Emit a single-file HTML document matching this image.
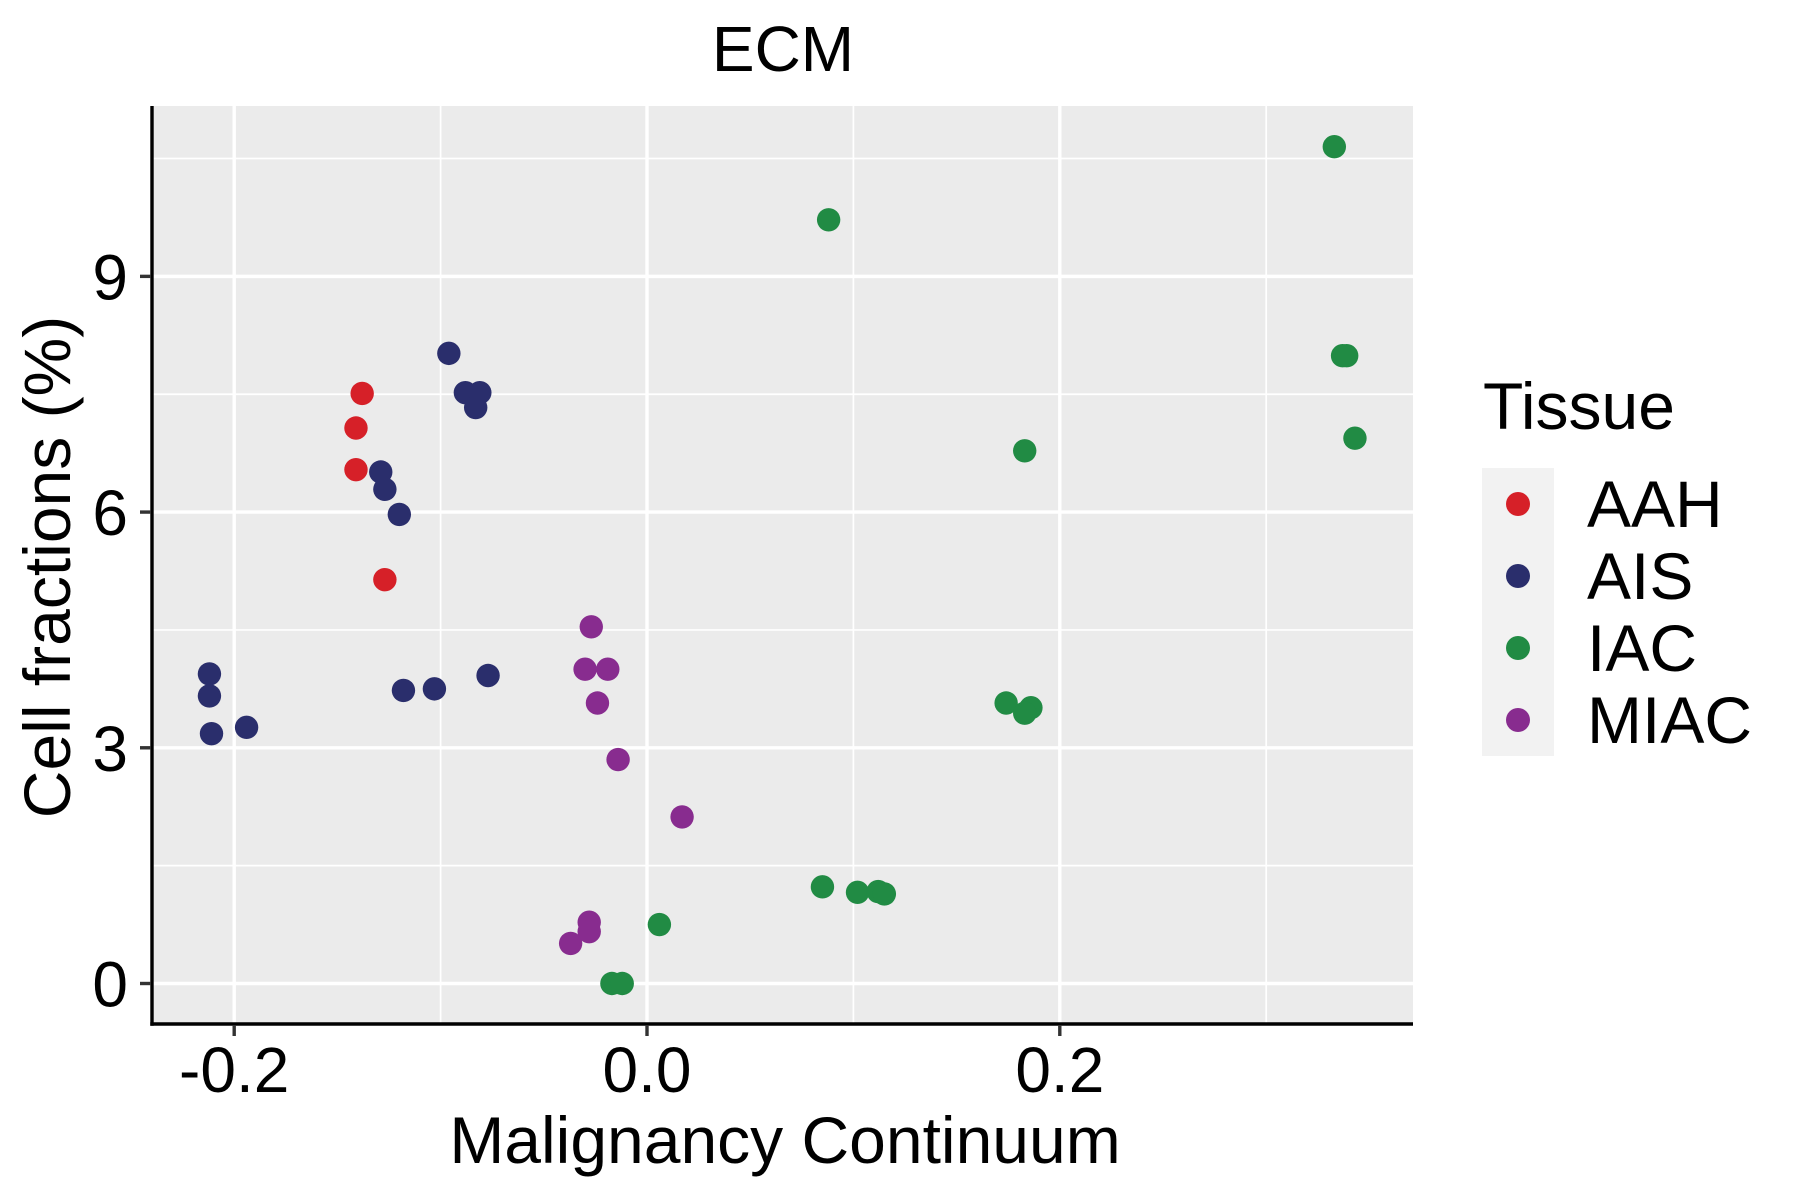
<!DOCTYPE html>
<html><head><meta charset="utf-8"><style>
html,body{margin:0;padding:0;background:#fff;}
svg{display:block;font-family:"Liberation Sans",Arial,sans-serif;}
</style></head><body>
<svg id="chart" width="1800" height="1200" viewBox="0 0 1800 1200" xmlns="http://www.w3.org/2000/svg">
<rect x="152" y="106" width="1261" height="918" fill="#ebebeb"/>
<g id="grid"></g>
<g id="points"></g>
<line x1="152" y1="106" x2="152" y2="1025.7" stroke="#000" stroke-width="3.4"/>
<line x1="150.3" y1="1024" x2="1413" y2="1024" stroke="#000" stroke-width="3.4"/>
<g id="ticks"></g>
<text x="783" y="71" font-size="64" text-anchor="middle">ECM</text>
<text x="785" y="1163" font-size="66" text-anchor="middle">Malignancy Continuum</text>
<text transform="translate(70,567) rotate(-90)" font-size="66" text-anchor="middle">Cell fractions (%)</text>
<g>
<text x="1483" y="429" font-size="66">Tissue</text>
<rect x="1482" y="468" width="72" height="288" fill="#f2f2f2"/>
<g id="legend-entries"></g>
</g>
</svg>
<script>
const xTicks = [-0.2, 0.0, 0.2];
const xTickLabels = ["-0.2", "0.0", "0.2"];
const xMinor = [-0.1, 0.1, 0.3];
const yTicks = [0, 3, 6, 9];
const yTickLabels = ["0", "3", "6", "9"];
const yMinor = [1.5, 4.5, 7.5, 10.5];
const groups = ["AAH", "AIS", "IAC", "MIAC"];
const groupColors = ["#d62028", "#2a2e6c", "#218b44", "#882c8f"];
const aahX = [-0.138, -0.141, -0.141, -0.127];
const aahY = [7.51, 7.07, 6.54, 5.14];
const aisX = [-0.096, -0.088, -0.081, -0.083, -0.129, -0.127, -0.120, -0.212, -0.212, -0.211, -0.194, -0.118, -0.103, -0.077];
const aisY = [8.02, 7.52, 7.52, 7.33, 6.51, 6.29, 5.97, 3.94, 3.66, 3.18, 3.26, 3.73, 3.75, 3.92];
const iacX = [0.333, 0.088, 0.337, 0.339, 0.343, 0.183, 0.174, 0.186, 0.183, 0.085, 0.102, 0.112, 0.115, 0.006, -0.017, -0.012];
const iacY = [10.65, 9.72, 7.99, 7.99, 6.94, 6.78, 3.57, 3.51, 3.44, 1.23, 1.16, 1.17, 1.14, 0.75, 0, 0];
const miacX = [-0.027, -0.030, -0.019, -0.024, -0.014, 0.017, -0.028, -0.028, -0.037];
const miacY = [4.54, 4.00, 4.00, 3.57, 2.85, 2.12, 0.78, 0.66, 0.51];

const NS = "http://www.w3.org/2000/svg";
function sx(v){ return 647 + v * 2064; }
function sy(v){ return 983.5 - v * 78.57; }
function mk(tag, attrs, parent){
  const e = document.createElementNS(NS, tag);
  for (const k in attrs) e.setAttribute(k, attrs[k]);
  parent.appendChild(e);
  return e;
}
const grid = document.getElementById("grid");
const ticks = document.getElementById("ticks");
xMinor.forEach(v => {
  const l = mk("line", {x1: sx(v), x2: sx(v), y1: 106, y2: 1024, stroke: "#fff", "stroke-width": 1.7}, grid);
  
  
});
yMinor.forEach(v => {
  const l = mk("line", {x1: 152, x2: 1413, y1: sy(v), y2: sy(v), stroke: "#fff", "stroke-width": 1.7}, grid);
  
  
});
xTicks.forEach((v, i) => {
  const l = mk("line", {x1: sx(v), x2: sx(v), y1: 106, y2: 1024, stroke: "#fff", "stroke-width": 3.4}, grid);
  
  
  const t = mk("line", {x1: sx(v), x2: sx(v), y1: 1025, y2: 1036, stroke: "#333", "stroke-width": 3.4}, ticks);
  
  
  const tx = mk("text", {x: sx(v), y: 1092, "font-size": 64, "text-anchor": "middle", fill: "#000"}, ticks);
  tx.textContent = xTickLabels[i];
  
  
});
yTicks.forEach((v, i) => {
  const l = mk("line", {x1: 152, x2: 1413, y1: sy(v), y2: sy(v), stroke: "#fff", "stroke-width": 3.4}, grid);
  
  
  const t = mk("line", {x1: 140, x2: 151, y1: sy(v), y2: sy(v), stroke: "#333", "stroke-width": 3.4}, ticks);
  
  
  const tx = mk("text", {x: 128, y: sy(v) + 23, "font-size": 64, "text-anchor": "end", fill: "#000"}, ticks);
  tx.textContent = yTickLabels[i];
  
  
});
const pts = document.getElementById("points");
const seriesX = [aahX, aisX, iacX, miacX];
const seriesY = [aahY, aisY, iacY, miacY];
seriesX.forEach((xs, g) => {
  xs.forEach((xv, j) => {
    const c = mk("circle", {cx: sx(xv), cy: sy(seriesY[g][j]), r: 11.7, fill: groupColors[g]}, pts);
    
    
  });
});
const le = document.getElementById("legend-entries");
groups.forEach((g, i) => {
  const c = mk("circle", {cx: 1518, cy: 504 + i * 72, r: 12, fill: groupColors[i]}, le);
  
  
  const t = mk("text", {x: 1587, y: 527 + i * 72, "font-size": 66, fill: "#000"}, le);
  t.textContent = g;
  
  
});
</script>
</body></html>
